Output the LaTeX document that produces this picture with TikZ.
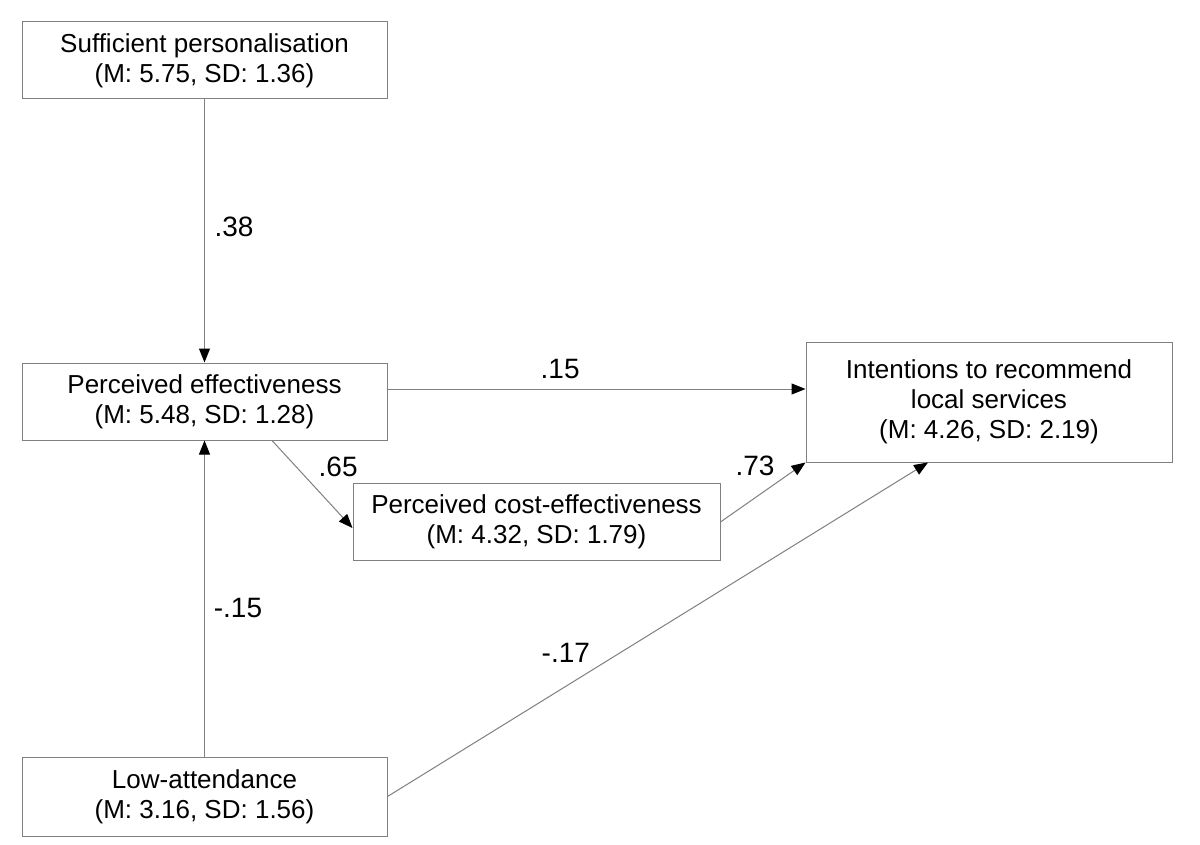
\documentclass[tikz,border=0pt]{standalone}
\usepackage{fontspec}
\setmainfont{Liberation Sans}
\usetikzlibrary{arrows.meta}
\begin{document}
\begin{tikzpicture}[x=1pt,y=-1pt,
  box/.style={draw=black!50, line width=1pt, rectangle, align=center, inner sep=0pt,
    font=\fontsize{26}{30}\selectfont, text=black},
  lowtext/.style={execute at begin node={\rule{0pt}{27pt}}},
  conn/.style={draw=black!50, line width=1pt, -{Triangle[length=14pt,width=11pt,color=black]}},
  lbl/.style={inner sep=0pt, font=\fontsize{28}{30}\selectfont, text=black, anchor=center}]
\useasboundingbox[fill=white] (0,0) rectangle (1200,845);
\node[box, lowtext, minimum width=365pt, minimum height=77pt] (suff) at (204.5,60.5)
  {Sufficient personalisation\\(M: 5.75, SD: 1.36)};
\node[box, lowtext, minimum width=365pt, minimum height=77pt] (pe) at (204.5,401.5)
  {Perceived effectiveness\\(M: 5.48, SD: 1.28)};
\node[box, minimum width=366pt, minimum height=120pt] (intent) at (989,402)
  {Intentions to recommend\\local services\\(M: 4.26, SD: 2.19)};
\node[box, lowtext, minimum width=367pt, minimum height=77pt] (cost) at (536.5,521.5)
  {Perceived cost-effectiveness\\(M: 4.32, SD: 1.79)};
\node[box, lowtext, minimum width=365pt, minimum height=79pt] (low) at (204.5,796.5)
  {Low-attendance\\(M: 3.16, SD: 1.56)};

\draw[conn] (suff.south) -- (pe.north)
  node[lbl, pos=0.485, xshift=29.5pt] {.38};
\draw[conn] ([yshift=12.5pt]pe.east) -- ([yshift=12.5pt]pe.east -| intent.west)
  node[lbl, pos=0.413, yshift=20pt] {.15};
\draw[conn] ([xshift=67.5pt]pe.south) -- ([yshift=-6.5pt]cost.west)
  node[lbl, pos=0.3, xshift=42pt] {.65};
\draw[conn] ([yshift=-0.5pt]cost.east) -- (intent.south west)
  node[lbl, pos=0.407, yshift=32pt] {.73};
\draw[conn] (low.north) -- (pe.south)
  node[lbl, pos=0.47, xshift=33.5pt] {-.15};
\draw[conn] (low.east) -- ([xshift=-61pt]intent.south)
  node[lbl, pos=0.33, yshift=33pt] {-.17};
\end{tikzpicture}
\end{document}
